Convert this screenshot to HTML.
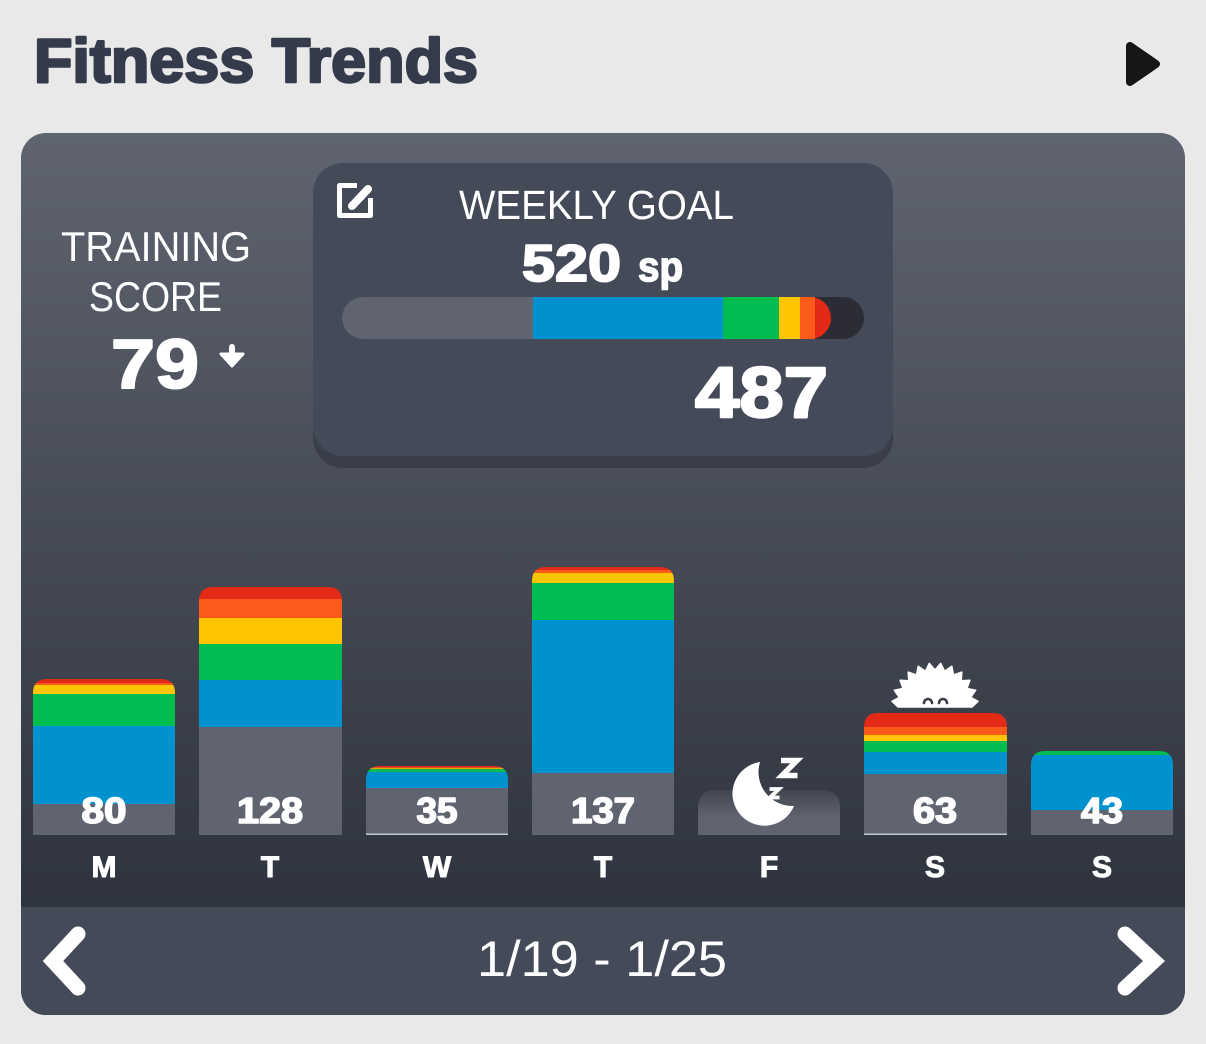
<!DOCTYPE html>
<html><head><meta charset="utf-8"><style>
html,body{margin:0;padding:0;background:#e9e9e9;}
svg{display:block;}
text{font-family:"Liberation Sans",sans-serif;}
</style></head><body>
<svg width="1206" height="1044" viewBox="0 0 1206 1044" xmlns="http://www.w3.org/2000/svg">
<defs>
<linearGradient id="cardg" x1="0" y1="133" x2="0" y2="907" gradientUnits="userSpaceOnUse">
<stop offset="0" stop-color="#5f6470"/>
<stop offset="1" stop-color="#2e333d"/>
</linearGradient>
<linearGradient id="fg" x1="0" y1="790" x2="0" y2="818" gradientUnits="userSpaceOnUse">
<stop offset="0" stop-color="#404551"/>
<stop offset="1" stop-color="#5f6470"/>
</linearGradient>
<clipPath id="card"><rect x="21" y="133" width="1164" height="882" rx="25"/></clipPath>
<clipPath id="pb"><rect x="342" y="297" width="522" height="42" rx="21"/></clipPath>
<clipPath id="b0"><path d="M33 835 V693 Q33 679 47 679 H161 Q175 679 175 693 V835 Z"/></clipPath>
<clipPath id="b1"><path d="M199 835 V601 Q199 587 213 587 H328 Q342 587 342 601 V835 Z"/></clipPath>
<clipPath id="b2"><path d="M366 835 V780 Q366 766 380 766 H494 Q508 766 508 780 V835 Z"/></clipPath>
<clipPath id="b3"><path d="M532 835 V581 Q532 567 546 567 H660 Q674 567 674 581 V835 Z"/></clipPath>
<clipPath id="b5"><path d="M864 835 V727 Q864 713 878 713 H993 Q1007 713 1007 727 V835 Z"/></clipPath>
<clipPath id="b6"><path d="M1031 835 V765 Q1031 751 1045 751 H1159 Q1173 751 1173 765 V835 Z"/></clipPath>
</defs>

<rect width="1206" height="1044" fill="#e9e9e9"/>

<!-- Title -->
<text x="34" y="82" font-size="62" font-weight="bold" fill="#353b4a" stroke="#353b4a" stroke-width="2.6" stroke-linejoin="round" textLength="444" lengthAdjust="spacingAndGlyphs">Fitness Trends</text>
<polygon points="1130,46 1156,64 1130,82" fill="#161616" stroke="#161616" stroke-width="8" stroke-linejoin="round"/>

<!-- Card -->
<g clip-path="url(#card)">
<rect x="21" y="133" width="1164" height="882" fill="url(#cardg)"/>
<rect x="21" y="907" width="1164" height="108" fill="#444a57"/>
</g>

<!-- Training score -->
<text x="61" y="261" font-size="42" fill="#fff" textLength="190" lengthAdjust="spacingAndGlyphs">TRAINING</text>
<text x="89" y="311" font-size="42" fill="#fff" textLength="133" lengthAdjust="spacingAndGlyphs">SCORE</text>
<text x="111" y="388" font-size="70" font-weight="bold" fill="#fff" stroke="#fff" stroke-width="2" stroke-linejoin="round" textLength="88" lengthAdjust="spacingAndGlyphs">79</text>
<rect x="229" y="344" width="6" height="14" rx="3" fill="#fff"/>
<polygon points="221,354 243,354 232,366" fill="#fff" stroke="#fff" stroke-width="3" stroke-linejoin="round"/>

<!-- Weekly goal box -->
<rect x="313" y="175" width="580" height="293" rx="30" fill="#393e49"/>
<rect x="313" y="163" width="580" height="293" rx="30" fill="#444a57"/>
<path d="M357 185.5 H339.5 V215.5 H370.5 V198" fill="none" stroke="#fff" stroke-width="5" stroke-linejoin="round"/>
<path d="M352 206 L368 189" stroke="#fff" stroke-width="8" stroke-linecap="round"/>
<text x="459" y="219" font-size="41" fill="#fff" textLength="275" lengthAdjust="spacingAndGlyphs">WEEKLY GOAL</text>
<text x="522" y="281" font-size="52" font-weight="bold" fill="#fff" stroke="#fff" stroke-width="2" stroke-linejoin="round" textLength="99" lengthAdjust="spacingAndGlyphs">520</text>
<text x="638" y="281" font-size="42" font-weight="bold" fill="#fff" stroke="#fff" stroke-width="1.5" stroke-linejoin="round" textLength="45" lengthAdjust="spacingAndGlyphs">sp</text>

<g clip-path="url(#pb)">
<rect x="342" y="297" width="522" height="42" fill="#2b2c35"/>
<rect x="342" y="297" width="191" height="42" fill="#5f6470"/>
<rect x="790" y="297" width="41" height="42" rx="21" fill="#e22a17"/>
<rect x="800" y="297" width="15" height="42" fill="#fb5a1a"/>
<rect x="779" y="297" width="21" height="42" fill="#fdc400"/>
<rect x="723" y="297" width="56" height="42" fill="#00bd51"/>
<rect x="533" y="297" width="190" height="42" fill="#0091cf"/>
</g>
<text x="695" y="417" font-size="71" font-weight="bold" fill="#fff" stroke="#fff" stroke-width="2.4" stroke-linejoin="round" textLength="133" lengthAdjust="spacingAndGlyphs">487</text>

<!-- Bars -->
<g clip-path="url(#b0)">
<rect x="33" y="679" width="142" height="4" fill="#e22a17"/>
<rect x="33" y="683" width="142" height="2" fill="#fb5a1a"/>
<rect x="33" y="685" width="142" height="9" fill="#fdc400"/>
<rect x="33" y="694" width="142" height="32" fill="#00bd51"/>
<rect x="33" y="726" width="142" height="78" fill="#0091cf"/>
<rect x="33" y="804" width="142" height="31" fill="#5f6470"/>
</g>
<g clip-path="url(#b1)">
<rect x="199" y="587" width="143" height="12" fill="#e22a17"/>
<rect x="199" y="599" width="143" height="19" fill="#fb5a1a"/>
<rect x="199" y="618" width="143" height="26" fill="#fdc400"/>
<rect x="199" y="644" width="143" height="36" fill="#00bd51"/>
<rect x="199" y="680" width="143" height="47" fill="#0091cf"/>
<rect x="199" y="727" width="143" height="108" fill="#5f6470"/>
</g>
<g clip-path="url(#b2)">
<rect x="366" y="766" width="142" height="1.2" fill="#e22a17"/>
<rect x="366" y="767.2" width="142" height="1" fill="#fb5a1a"/>
<rect x="366" y="768.2" width="142" height="1" fill="#fdc400"/>
<rect x="366" y="769.2" width="142" height="2.8" fill="#00bd51"/>
<rect x="366" y="772" width="142" height="16" fill="#0091cf"/>
<rect x="366" y="788" width="142" height="47" fill="#5f6470"/>
</g>
<rect x="366" y="833.5" width="142" height="1.5" fill="#c3c6cc"/>
<g clip-path="url(#b3)">
<rect x="532" y="567" width="142" height="3" fill="#e22a17"/>
<rect x="532" y="570" width="142" height="3" fill="#fb5a1a"/>
<rect x="532" y="573" width="142" height="10" fill="#fdc400"/>
<rect x="532" y="583" width="142" height="37" fill="#00bd51"/>
<rect x="532" y="620" width="142" height="153" fill="#0091cf"/>
<rect x="532" y="773" width="142" height="62" fill="#5f6470"/>
</g>
<!-- Friday rest -->
<path d="M698 835 V808 Q698 790 716 790 H822 Q840 790 840 808 V835 Z" fill="url(#fg)"/>
<path d="M760 762 A32 32 0 1 0 794 806 A34 34 0 0 1 760 762 Z" fill="#fff"/>
<path d="M781 760.5 H797 L782 775.5 H797.5" fill="none" stroke="#fff" stroke-width="5.5" stroke-linejoin="miter"/>
<path d="M769.5 789 H779 L770 797.5 H779.5" fill="none" stroke="#fff" stroke-width="3.8" stroke-linejoin="miter"/>

<g clip-path="url(#b5)">
<rect x="864" y="713" width="143" height="14" fill="#e22a17"/>
<rect x="864" y="727" width="143" height="8" fill="#fb5a1a"/>
<rect x="864" y="735" width="143" height="6" fill="#fdc400"/>
<rect x="864" y="741" width="143" height="11" fill="#00bd51"/>
<rect x="864" y="752" width="143" height="22" fill="#0091cf"/>
<rect x="864" y="774" width="143" height="61" fill="#5f6470"/>
</g>
<rect x="864" y="833.5" width="143" height="1.5" fill="#c3c6cc"/>
<!-- hedgehog -->
<polygon fill="#fff" stroke="#fff" stroke-width="1.5" stroke-linejoin="round" points="898,707 892,701.3 899.3,697.4 894.3,690.2 903,688.5 900.1,680.2 908.8,680.8 908.2,672.1 916.5,675 918.2,666.3 925.4,671.3 929.3,663.4 935,670 940.7,663.4 944.6,671.3 951.8,666.3 953.5,675 961.8,672.1 961.2,680.8 969.9,680.2 967,688.5 975.7,690.2 970.7,697.4 978,701.3 972,707"/>
<path d="M924 703 A4 4 0 0 1 932 703 M939 703 A4 4 0 0 1 947 703" fill="none" stroke="#3a3f4a" stroke-width="2.6" stroke-linecap="round"/>

<g clip-path="url(#b6)">
<rect x="1031" y="751" width="142" height="4" fill="#00bd51"/>
<rect x="1031" y="755" width="142" height="55" fill="#0091cf"/>
<rect x="1031" y="810" width="142" height="25" fill="#5f6470"/>
</g>

<!-- bar numbers -->
<g font-size="36" font-weight="bold" fill="#fff" stroke="#fff" stroke-width="1.6" stroke-linejoin="round" text-anchor="middle">
<text x="104" y="823" textLength="45" lengthAdjust="spacingAndGlyphs">80</text>
<text x="270" y="823" textLength="66" lengthAdjust="spacingAndGlyphs">128</text>
<text x="437" y="823" textLength="41" lengthAdjust="spacingAndGlyphs">35</text>
<text x="603" y="823" textLength="64" lengthAdjust="spacingAndGlyphs">137</text>
<text x="935" y="823" textLength="44" lengthAdjust="spacingAndGlyphs">63</text>
<text x="1102" y="823" textLength="42" lengthAdjust="spacingAndGlyphs">43</text>
</g>

<!-- day labels -->
<g font-size="30" font-weight="bold" fill="#fff" stroke="#fff" stroke-width="1" text-anchor="middle">
<text x="104" y="877">M</text>
<text x="270" y="877">T</text>
<text x="437" y="877">W</text>
<text x="603" y="877">T</text>
<text x="769" y="877">F</text>
<text x="935" y="877">S</text>
<text x="1102" y="877">S</text>
</g>

<!-- nav -->
<polyline points="78,934 53,961 78,988" fill="none" stroke="#fff" stroke-width="15" stroke-linecap="round" stroke-linejoin="miter"/>
<polyline points="1125,934 1154,961 1125,988" fill="none" stroke="#fff" stroke-width="15" stroke-linecap="round" stroke-linejoin="miter"/>
<text x="477" y="976" font-size="50" fill="#fff" textLength="250" lengthAdjust="spacingAndGlyphs">1/19 - 1/25</text>
</svg>
</body></html>
